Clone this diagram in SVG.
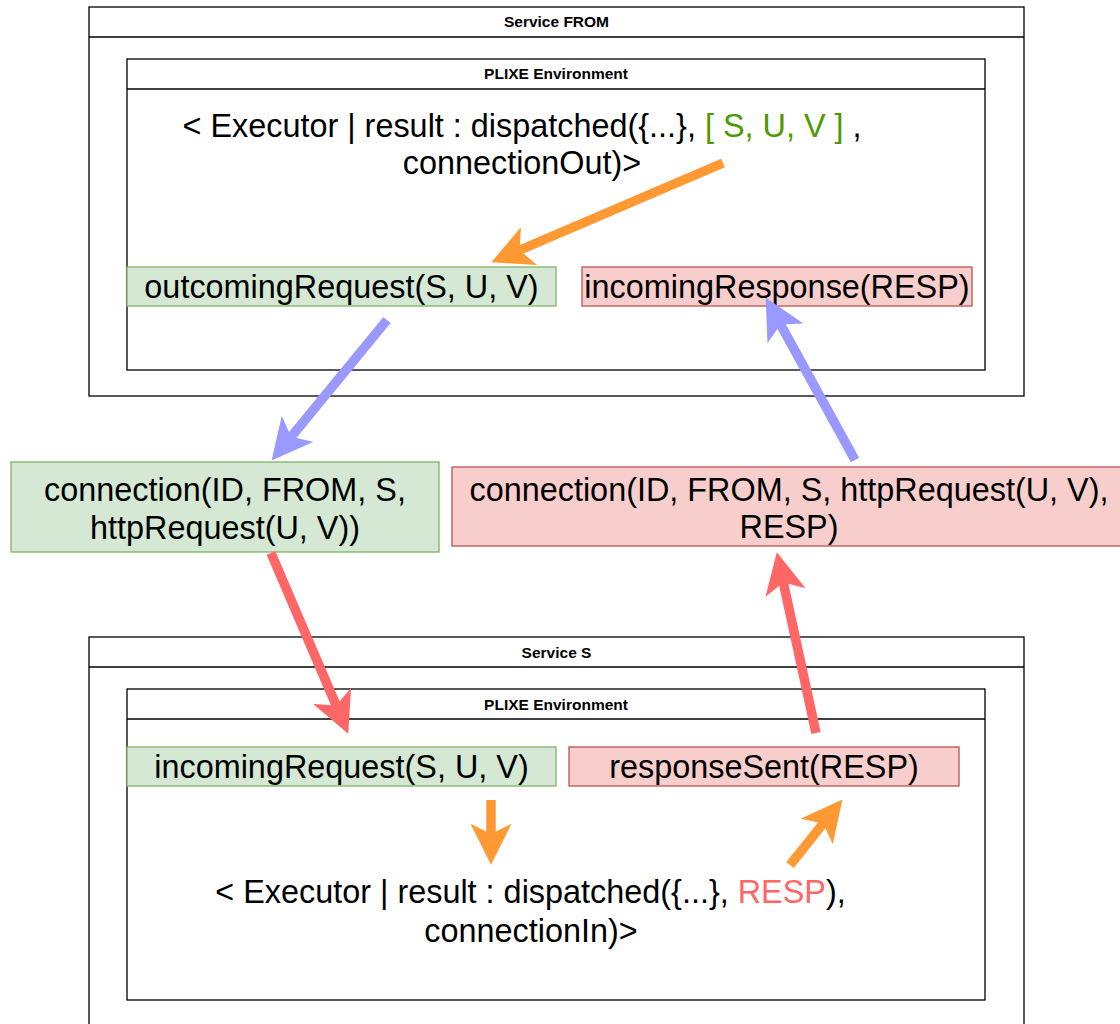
<svg xmlns="http://www.w3.org/2000/svg" width="1120" height="1024" viewBox="0 0 1120 1024">
<style>
.frame{fill:#ffffff;stroke:#000000;stroke-width:1.3}
.hdr{stroke:#000000;stroke-width:1.3}
.title{font-family:"Liberation Sans",Arial,sans-serif;font-size:15.5px;font-weight:bold;text-anchor:middle;fill:#000}
.big{font-family:"Liberation Sans",Arial,sans-serif;font-size:32.4px;text-anchor:middle;fill:#000}
.green{fill:#d5e8d4;stroke:#82b366;stroke-width:1.3}
.red{fill:#f8cecc;stroke:#b85450;stroke-width:1.3}
.gtxt{fill:#4d9900}
.rtxt{fill:#ff6666}
.conn{fill:none;stroke-width:9.5}
.o{stroke:#ff9933}
.b{stroke:#9999ff}
.r{stroke:#ff6666}
</style>
<defs>
<marker id="ho" viewBox="0 0 40 40" refX="12" refY="20" markerWidth="41" markerHeight="41" markerUnits="userSpaceOnUse" orient="auto"><path d="M0,0 L40,20 L0,40 L10,20 Z" fill="#ff9933"/></marker>
<marker id="hb" viewBox="0 0 40 40" refX="12" refY="20" markerWidth="41" markerHeight="41" markerUnits="userSpaceOnUse" orient="auto"><path d="M0,0 L40,20 L0,40 L10,20 Z" fill="#9999ff"/></marker>
<marker id="hr" viewBox="0 0 40 40" refX="12" refY="20" markerWidth="41" markerHeight="41" markerUnits="userSpaceOnUse" orient="auto"><path d="M0,0 L40,20 L0,40 L10,20 Z" fill="#ff6666"/></marker>
</defs>
<rect width="1120" height="1024" fill="#ffffff"/>

<g id="service-from">
<rect class="frame" x="89" y="7" width="935" height="389"/>
<line class="hdr" x1="89" y1="37" x2="1024" y2="37"/>
<text class="title" x="556.5" y="26.5">Service FROM</text>
</g>
<g id="plixe-from">
<rect class="frame" x="127" y="59" width="858" height="311"/>
<line class="hdr" x1="127" y1="89" x2="985" y2="89"/>
<text class="title" x="556" y="78.5">PLIXE Environment</text>
</g>
<g id="executor-from">
<text class="big" x="522" y="137">&lt; Executor | result : dispatched({...}, <tspan class="gtxt">[ S, U, V ]</tspan> ,</text>
<text class="big" x="522" y="174">connectionOut)&gt;</text>
</g>
<g id="outcoming-request">
<rect class="green" x="127" y="267" width="429" height="39"/>
<text class="big" x="341.5" y="298">outcomingRequest(S, U, V)</text>
</g>
<g id="incoming-response">
<rect class="red" x="582" y="267" width="390" height="39"/>
<text class="big" x="777" y="298">incomingResponse(RESP)</text>
</g>
<g id="connection-request">
<rect class="green" x="11" y="462" width="428" height="90"/>
<text class="big" x="225" y="501">connection(ID, FROM, S,</text>
<text class="big" x="225" y="539">httpRequest(U, V))</text>
</g>
<g id="connection-response">
<rect class="red" x="452" y="467" width="674" height="79"/>
<text class="big" x="789" y="501">connection(ID, FROM, S, httpRequest(U, V),</text>
<text class="big" x="789" y="538">RESP)</text>
</g>
<g id="service-s">
<rect class="frame" x="89" y="637" width="935" height="400"/>
<line class="hdr" x1="89" y1="667" x2="1024" y2="667"/>
<text class="title" x="556.5" y="657.5">Service S</text>
</g>
<g id="plixe-s">
<rect class="frame" x="127" y="689" width="858" height="311"/>
<line class="hdr" x1="127" y1="719" x2="985" y2="719"/>
<text class="title" x="556" y="709.5">PLIXE Environment</text>
</g>
<g id="incoming-request">
<rect class="green" x="127" y="747" width="429" height="39"/>
<text class="big" x="341.5" y="778">incomingRequest(S, U, V)</text>
</g>
<g id="response-sent">
<rect class="red" x="569" y="747" width="390" height="39"/>
<text class="big" x="764" y="778">responseSent(RESP)</text>
</g>
<g id="executor-s">
<text class="big" x="530.5" y="903">&lt; Executor | result : dispatched({...}, <tspan class="rtxt">RESP</tspan>),</text>
<text class="big" x="531" y="942">connectionIn)&gt;</text>
</g>

<g id="connectors">
<path class="conn o" d="M723,163 L517.7,251" marker-end="url(#ho)"/>
<path class="conn b" d="M387,320 L289.8,438.4" marker-end="url(#hb)"/>
<path class="conn b" d="M855,460 L779.5,322.6" marker-end="url(#hb)"/>
<path class="conn r" d="M271,553 L337,707.3" marker-end="url(#hr)"/>
<path class="conn r" d="M816,733 L782.9,580.4" marker-end="url(#hr)"/>
<path class="conn o" d="M491,800 L491,836" marker-end="url(#ho)"/>
<path class="conn o" d="M790,865 L824.5,821.9" marker-end="url(#ho)"/>
</g>
</svg>
